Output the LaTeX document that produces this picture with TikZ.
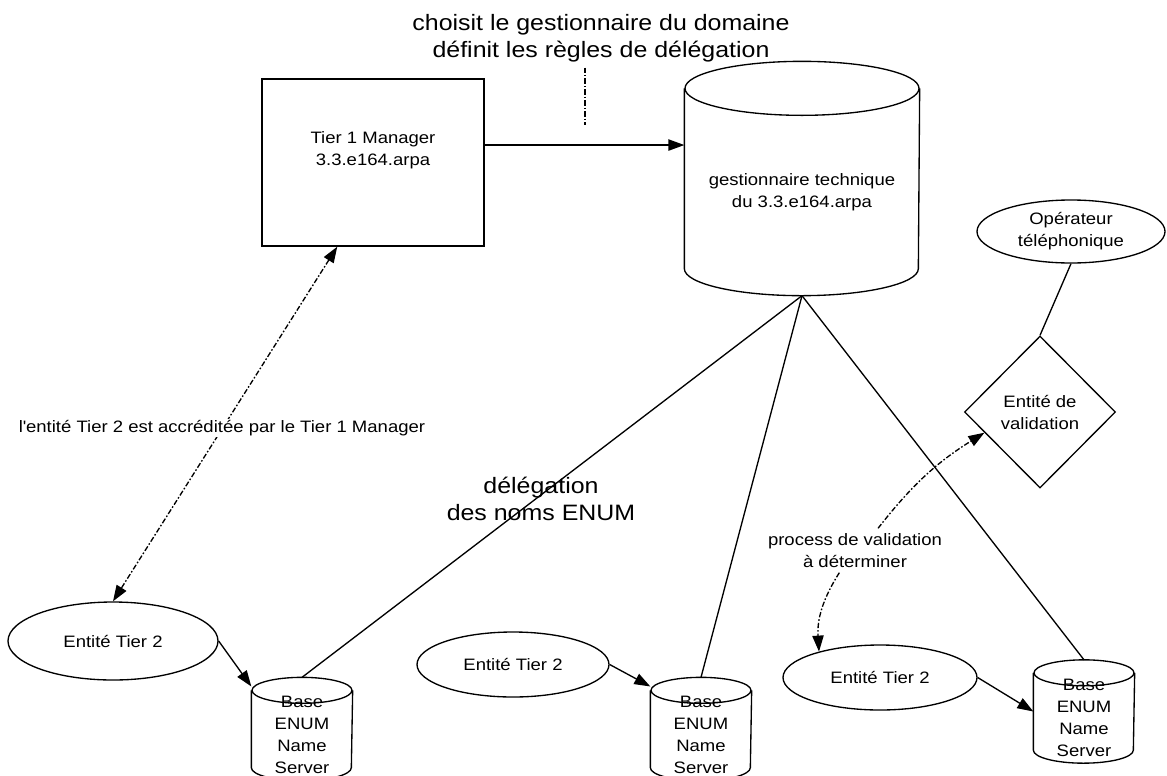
\documentclass[tikz,border=0pt]{standalone}
\usepackage{fontspec}
\setmainfont{Liberation Sans}[FakeStretch=1.12]
\usetikzlibrary{shapes.geometric,arrows.meta,calc}

\newcommand{\drawcyl}[3]{%
	\draw ([yshift=-#3]#1.north west) -- ([yshift=#3]#1.south west)
		arc[start angle=180, end angle=360, x radius=#2, y radius=#3] -- ([yshift=-#3]#1.north east);
	\draw ([yshift=-#3]#1.north) ellipse[x radius=#2, y radius=#3];}

\begin{document}
\begin{tikzpicture}[x=0.75pt, y=-0.75pt, line width=1pt,
		smalltext/.style={font=\fontsize{12.4}{16.5}\selectfont, align=center},
		bigtext/.style={font=\fontsize{16.7}{20.3}\selectfont, align=center},
		manager/.style={draw, rectangle, minimum width=166.5pt, minimum height=125.25pt},
		cylbody/.style={rectangle, inner sep=0pt},
		enumbase/.style={cylbody, minimum width=75pt, minimum height=76.5pt},
		entity/.style={draw, ellipse, smalltext, inner sep=0pt},
		arr/.style={-{Triangle[length=12pt,width=8.5pt]}},
		dasharr/.style={dash pattern=on 4pt off 1.5pt on 1.2pt off 1.5pt, -{Triangle[length=12pt,width=8.5pt]}},
		dashline/.style={dash pattern=on 4pt off 1.5pt on 1.2pt off 1.5pt}]
		\useasboundingbox (0,0) rectangle (1167,775);

		\node[bigtext] (choix) at (601,38.5) {choisit le gestionnaire du domaine\\définit les règles de délégation};
		\node[manager, label={[smalltext,yshift=9.4pt]center:Tier 1 Manager\\3.3.e164.arpa}] (mgr) at (373,162.5) {};
		\node[cylbody, minimum width=175.5pt, minimum height=174.75pt,
			label={[smalltext,yshift=-10.5pt]center:gestionnaire technique\\du 3.3.e164.arpa}] (gest) at (802,178.5) {};
		\node[entity, minimum width=141pt, minimum height=47.25pt] (oper) at (1071,231.5) {Opérateur\\téléphonique};
		\node[draw, diamond, smalltext, minimum width=113.25pt, minimum height=114pt, inner sep=0pt] (valid) at (1040,412) {Entité de\\validation};

		\node[entity, minimum width=157.5pt, minimum height=58.5pt] (t2a) at (113,641) {Entité Tier 2};
		\node[entity, minimum width=144pt, minimum height=48.75pt] (t2b) at (513,664.5) {Entité Tier 2};
		\node[entity, minimum width=145.5pt, minimum height=48.75pt] (t2c) at (880,677.5) {Entité Tier 2};

		\node[enumbase, label={[smalltext,yshift=-4.5pt]center:Base\\ENUM\\Name\\Server}] (b1) at (302,729) {};
		\node[enumbase, label={[smalltext,yshift=-4.5pt]center:Base\\ENUM\\Name\\Server}] (b2) at (701,729) {};
		\node[enumbase, label={[smalltext,yshift=-4.5pt]center:Base\\ENUM\\Name\\Server}] (b3) at (1084,711.5) {};

		\drawcyl{gest}{87.75pt}{20.25pt}
		\drawcyl{b1}{37.5pt}{9.75pt}
		\drawcyl{b2}{37.5pt}{9.75pt}
		\drawcyl{b3}{37.5pt}{9.75pt}

		\node[bigtext] (deleg) at (541,499) {délégation\\des noms ENUM};
		\node[smalltext] (proc) at (855,550.5) {process de validation\\à déterminer};

		\coordinate (choixbot) at (585,125);
		\draw[dashline] (choix.south -| choixbot) -- (choixbot);
		\draw[arr] ([yshift=13.1pt]mgr.east) -- ([yshift=13.1pt]mgr.east -| gest.west);

		\draw[dashline, {Triangle[length=12pt,width=8.5pt]}-{Triangle[length=12pt,width=8.5pt]}] ($(mgr.south west)!0.34!(mgr.south east)$) -- (t2a.north);
		\node[smalltext, fill=white, inner sep=1pt] (accr) at (222,428) {l\textquotesingle entité Tier 2 est accréditée par le Tier 1 Manager};

		\draw (gest.south) -- (b1.north);
		\draw (gest.south) -- (b2.north);
		\draw (gest.south) -- (b3.north);
		\draw (oper.south) -- (valid.north);

		\draw[arr] (t2a.east) -- (b1.140);
		\draw[arr] (t2b.east) -- (b2.140);
		\draw[arr] (t2c.east) -- (b3.west);

		\draw[dasharr] ($(proc.north)!0.25!(proc.north east)$) to[bend left=10] ($(valid.west)!0.27!(valid.south)$);
		\draw[dasharr] ($(proc.south)!0.17!(proc.south west)$) to[bend right=18] (t2c.157);
	\end{tikzpicture}
\end{document}
